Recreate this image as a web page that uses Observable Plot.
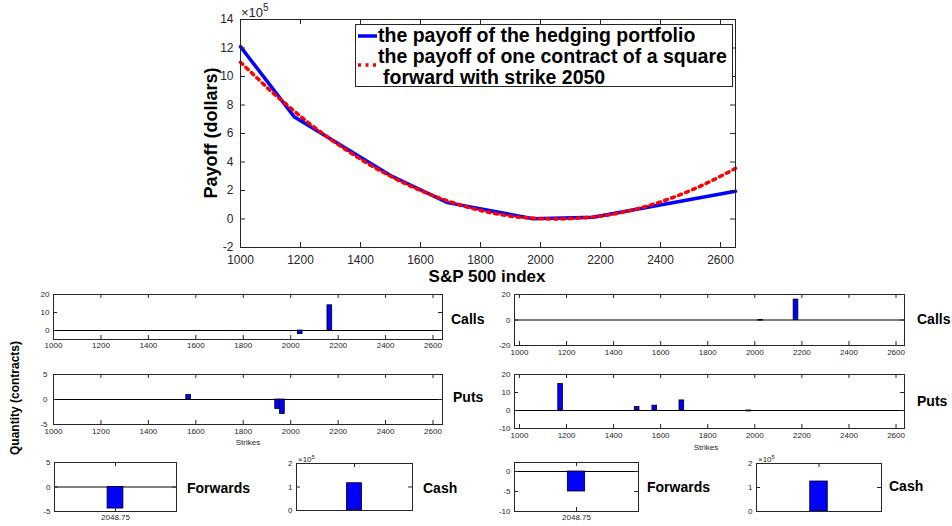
<!DOCTYPE html>
<html>
<head>
<meta charset="utf-8">
<script src="https://cdn.jsdelivr.net/npm/d3@7"></script>
<script src="https://cdn.jsdelivr.net/npm/@observablehq/plot@0.6"></script>
<style>
  html, body { margin: 0; padding: 0; background: #fff; }
  #root { position: relative; width: 952px; height: 526px; overflow: hidden; font-family: "Liberation Sans", Arial, sans-serif; color: #262626; }
  .lbl { position: absolute; white-space: nowrap; line-height: 1; }
  .b { font-weight: bold; color: #000; }
  svg { position: absolute; overflow: visible; }
</style>
</head>
<body>
<div id="root"></div>
<script>
// ---------------- data ----------------
// main chart: payoff in units of 10^5 dollars vs S&P 500 index
const hedgeS      = [1000, 1180, 1500, 1575, 1690, 1975, 2175, 2650];
const hedgePayoff = [12.1, 7.15, 3.05, 2.3, 1.15, 0.02, 0.12, 1.95];
const squareS      = [1000, 1050, 1100, 1150, 1200, 1300, 1400, 1500, 1600, 1700, 1800, 1900, 2000, 2050, 2100, 2200, 2300, 2400, 2500, 2600, 2650];
const squarePayoff = [11.0, 10.0, 9.0, 8.1, 7.2, 5.6, 4.2, 3.0, 2.0, 1.2, 0.6, 0.2, 0.03, 0, 0.03, 0.2, 0.6, 1.2, 2.0, 3.0, 3.55];
const mainXTicks = [1000, 1200, 1400, 1600, 1800, 2000, 2200, 2400, 2600];
const mainYTicks = [-2, 0, 2, 4, 6, 8, 10, 12, 14];
const legendLabels = ["the payoff of the hedging portfolio", "the payoff of one contract of a square", "forward with strike 2050"];

// left portfolio (contracts)
const leftCallK = [2040, 2165];
const leftCallQ = [-2, 14];
const leftPutK  = [1570, 1945, 1965];
const leftPutQ  = [0.9, -1.9, -2.9];
const leftForwardQ = -4.4;
const leftCash = 1.16;        // x 10^5

// right portfolio (contracts)
const rightCallK = [2025, 2175];
const rightCallQ = [-0.5, 16];
const rightPutK  = [1175, 1500, 1575, 1690, 1975];
const rightPutQ  = [14.7, 1.9, 2.7, 5.6, -0.5];
const rightForwardQ = -5.0;
const rightCash = 1.25;       // x 10^5

const strikeTicks = [1000, 1200, 1400, 1600, 1800, 2000, 2200, 2400, 2600];
const forwardLabel = "2048.75";

// ---------------- helpers ----------------
const root = document.getElementById("root");
const axisColor = "#262626";
const barFill = "#0000ff";

function label(text, x, y, {size = 12, bold = false, anchor = "start", rotate = 0, color} = {}) {
  const d = document.createElement("div");
  d.className = "lbl" + (bold ? " b" : "");
  d.innerHTML = text;
  d.style.fontSize = size + "px";
  if (color) d.style.color = color;
  d.style.left = x + "px";
  d.style.top = y + "px";
  const tx = anchor === "middle" ? "-50%" : anchor === "end" ? "-100%" : "0";
  d.style.transform = rotate ? `translate(-50%,-50%) rotate(${rotate}deg)` : `translate(${tx},-50%)`;
  root.appendChild(d);
  return d;
}

function panel(o) {
  const ml = 40, mr = 14, mt = 12, mb = 24;
  const tl = o.tickLen ?? 4;
  const fs = o.fs ?? 8;
  const marks = [
    ...(o.marks || []),
    Plot.frame({stroke: axisColor, strokeWidth: 1}),
    Plot.ruleX(o.xTicks, {x: d => d, insetTop: o.fh - tl, stroke: axisColor}),
    Plot.ruleX(o.xTicks, {x: d => d, insetBottom: o.fh - tl, stroke: axisColor}),
    Plot.ruleY(o.yTicks, {y: d => d, insetRight: o.fw - tl, stroke: axisColor}),
    Plot.ruleY(o.yTicks, {y: d => d, insetLeft: o.fw - tl, stroke: axisColor}),
    Plot.axisY(o.yTicks, {label: null, tickSize: 0, tickPadding: o.yPad ?? 4, tickFormat: o.yFormat ?? (d => String(d)), fontSize: fs, fill: axisColor}),
    Plot.axisX(o.xLabelTicks ?? o.xTicks, {label: null, tickSize: 0, tickPadding: o.xPad ?? 3, tickFormat: o.xFormat ?? (d => String(d)), fontSize: fs, fill: axisColor})
  ];
  const svg = Plot.plot({
    width: o.fw + ml + mr,
    height: o.fh + mt + mb,
    marginLeft: ml, marginRight: mr, marginTop: mt, marginBottom: mb,
    x: {domain: o.xDomain, axis: null, label: null},
    y: {domain: o.yDomain, axis: null, label: null},
    style: {fontFamily: '"Liberation Sans", Arial, sans-serif', fontSize: fs + "px", color: axisColor, background: "transparent", overflow: "visible"},
    marks
  });
  svg.style.position = "absolute";
  svg.style.left = (o.fx - ml) + "px";
  svg.style.top = (o.fy - mt) + "px";
  root.appendChild(svg);
  return svg;
}

function barMarks(ks, qs, half) {
  const data = ks.map((k, i) => ({k, q: qs[i]}));
  return [
    Plot.ruleY([0], {stroke: "#000", strokeWidth: 1}),
    Plot.rectY(data, {x1: d => d.k - half, x2: d => d.k + half, y: "q", fill: barFill, stroke: "#000", strokeWidth: 0.8})
  ];
}

// ---------------- main chart ----------------
const hedgeData = hedgeS.map((s, i) => ({s, p: hedgePayoff[i]}));
const squareData = squareS.map((s, i) => ({s, p: squarePayoff[i]}));

panel({
  fx: 240, fy: 19, fw: 495, fh: 228,
  xDomain: [1000, 2650], yDomain: [-2, 14],
  xTicks: mainXTicks, yTicks: mainYTicks, fs: 12, tickLen: 5, xPad: 8, yPad: 7,
  marks: [
    Plot.line(hedgeData, {x: "s", y: "p", stroke: "#0000ff", strokeWidth: 3.5}),
    Plot.line(squareData, {x: "s", y: "p", stroke: "#ff0000", strokeWidth: 3.5, strokeDasharray: "3,4.5", curve: "monotone-x"})
  ]
});
label("×10<sup style='font-size:10px'>5</sup>", 241, 11, {size: 13});
label("Payoff (dollars)", 211, 133, {size: 18, bold: true, rotate: -90});
label("S&amp;P 500 index", 487, 276, {size: 17, bold: true, anchor: "middle"});

// legend
const leg = document.createElement("div");
leg.style.cssText = "position:absolute;left:355px;top:24px;width:376px;height:61px;border:1px solid #262626;background:#fff;";
root.appendChild(leg);
const legSvg = document.createElementNS("http://www.w3.org/2000/svg", "svg");
legSvg.setAttribute("width", "30"); legSvg.setAttribute("height", "61");
legSvg.style.cssText = "position:absolute;left:0;top:0;";
legSvg.innerHTML = `<line x1="2" x2="21" y1="11" y2="11" stroke="#0000ff" stroke-width="3.5"/>
<line x1="2" x2="21" y1="40" y2="40" stroke="#ff0000" stroke-width="3.5" stroke-dasharray="3,4.5"/>`;
leg.appendChild(legSvg);
[[legendLabels[0], 22, 11], [legendLabels[1], 22, 32], [legendLabels[2], 27, 53]].forEach(([t, x, y]) => {
  const s = document.createElement("div");
  s.className = "lbl b";
  s.textContent = t;
  s.style.cssText += `left:${x}px;top:${y}px;font-size:19.5px;transform:translate(0,-50%);`;
  leg.appendChild(s);
});

// ---------------- left portfolio ----------------
panel({
  fx: 53, fy: 294, fw: 389, fh: 45,
  xDomain: [1000, 2640], yDomain: [-5, 20],
  xTicks: strikeTicks, yTicks: [0, 10, 20],
  marks: barMarks(leftCallK, leftCallQ, 10)
});
panel({
  fx: 53, fy: 374, fw: 389, fh: 50,
  xDomain: [1000, 2640], yDomain: [-5, 5],
  xTicks: strikeTicks, yTicks: [-5, 0, 5], xPad: 4, yPad: 6,
  marks: barMarks(leftPutK, leftPutQ, 10)
});
label("Strikes", 248, 443, {size: 8, anchor: "middle", color: axisColor});
label("Calls", 451, 319, {size: 14, bold: true});
label("Puts", 453, 397, {size: 14, bold: true});

panel({
  fx: 54, fy: 462, fw: 122, fh: 49,
  xDomain: [0, 2], yDomain: [-5, 5],
  xTicks: [1], yTicks: [-5, 0, 5], xFormat: () => forwardLabel,
  marks: [
    Plot.ruleY([0], {stroke: "#000"}),
    Plot.rectY([leftForwardQ], {x1: 1 - 0.13, x2: 1 + 0.13, y: d => d, fill: barFill, stroke: "#000", strokeWidth: 0.8})
  ]
});
label("Forwards", 187, 488, {size: 14, bold: true});

panel({
  fx: 296, fy: 463, fw: 116, fh: 47,
  xDomain: [0, 2], yDomain: [0, 2],
  xTicks: [1], xLabelTicks: [], yTicks: [0, 1, 2],
  marks: [
    Plot.rectY([leftCash], {x1: 1 - 0.13, x2: 1 + 0.13, y: d => d, fill: barFill, stroke: "#000", strokeWidth: 0.8})
  ]
});
label("×10<sup style='font-size:6px'>5</sup>", 298, 459, {size: 8});
label("Cash", 423, 488, {size: 14, bold: true});

// ---------------- right portfolio ----------------
panel({
  fx: 514, fy: 294, fw: 390, fh: 51,
  xDomain: [979, 2636], yDomain: [-20, 20],
  xTicks: strikeTicks, yTicks: [-20, 0, 20], xPad: 4,
  marks: barMarks(rightCallK, rightCallQ, 10)
});
panel({
  fx: 514, fy: 374, fw: 390, fh: 54,
  xDomain: [979, 2636], yDomain: [-10, 20],
  xTicks: strikeTicks, yTicks: [-10, 0, 10, 20], xPad: 4,
  marks: barMarks(rightPutK, rightPutQ, 10)
});
label("Strikes", 706, 448, {size: 8, anchor: "middle", color: axisColor});
label("Calls", 917, 319, {size: 14, bold: true});
label("Puts", 917, 401, {size: 14, bold: true});

panel({
  fx: 514, fy: 462, fw: 124, fh: 49,
  xDomain: [0, 2], yDomain: [-10, 2.25],
  xTicks: [1], yTicks: [-10, -5, 0], xFormat: () => forwardLabel,
  marks: [
    Plot.ruleY([0], {stroke: "#000"}),
    Plot.rectY([rightForwardQ], {x1: 1 - 0.14, x2: 1 + 0.14, y: d => d, fill: barFill, stroke: "#000", strokeWidth: 0.8})
  ]
});
label("Forwards", 647, 487, {size: 14, bold: true});

panel({
  fx: 756, fy: 463, fw: 125, fh: 48,
  xDomain: [0, 2], yDomain: [0, 2],
  xTicks: [1], xLabelTicks: [], yTicks: [0, 1, 2],
  marks: [
    Plot.rectY([rightCash], {x1: 1 - 0.14, x2: 1 + 0.14, y: d => d, fill: barFill, stroke: "#000", strokeWidth: 0.8})
  ]
});
label("×10<sup style='font-size:6px'>5</sup>", 758, 459, {size: 8});
label("Cash", 889, 486, {size: 14, bold: true});

// shared y label
label("Quantity (contracts)", 15, 398, {size: 12, bold: true, rotate: -90});
</script>
</body>
</html>
